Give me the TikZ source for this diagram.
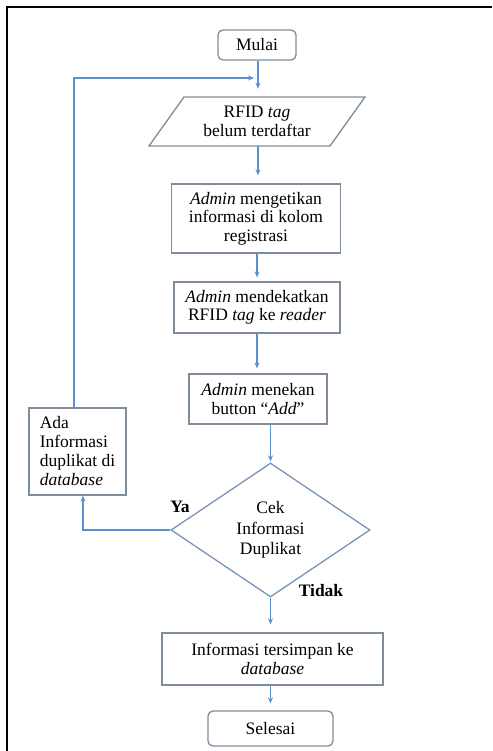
\documentclass[tikz,border=0pt]{standalone}
\usepackage{fontspec}
\setmainfont{Liberation Serif}
\usetikzlibrary{shapes.geometric,arrows.meta,calc}
\definecolor{cblue}{HTML}{5B8FD0}
\definecolor{bord}{HTML}{7F8C99}
\definecolor{dbord}{HTML}{7896B4}
\begin{document}
\begin{tikzpicture}[x=1pt,y=-1pt,
  every node/.style={font=\fontsize{17.5}{18.5}\selectfont, inner sep=0pt, align=center},
  proc/.style={draw=bord, line width=1.3pt, rectangle},
  term/.style={draw=bord, line width=1.3pt, rounded corners=5pt},
  dec/.style={draw=dbord, line width=1.3pt, diamond},
  arr/.style={draw=cblue, line width=1.2pt, -{Stealth[length=6pt,width=5pt]}, shorten >=6pt},
  lbl/.style={font=\fontsize{17.5}{18.5}\selectfont\bfseries}
]
\useasboundingbox (0,0) rectangle (492,751);
\draw[line width=2pt] (7,751) -- (7,7) -- (492,7);

\node[term, minimum width=78, minimum height=30] (start) at (257,45) {Mulai};
\node[minimum width=215, minimum height=49] (para) at (257,121.5) {RFID \textit{tag}\\belum terdaftar};
\draw[draw=bord, line width=1.3pt]
  ($(para.center)+(-73,-24.5)$) -- ($(para.center)+(108,-24.5)$) --
  ($(para.center)+(73,24.5)$) -- ($(para.center)+(-108,24.5)$) -- cycle;
\node[proc, minimum width=169, minimum height=69] (b3) at (256,218.5) {\textit{Admin} mengetikan\\informasi di kolom\\registrasi};
\node[proc, minimum width=166, minimum height=51] (b4) at (257,307.5) {\textit{Admin} mendekatkan\\RFID \textit{tag} ke \textit{reader}};
\node[proc, minimum width=138, minimum height=50] (b5) at (258,399) {\textit{Admin} menekan\\button “\textit{Add}”};
\node[dec, minimum width=199, minimum height=134] (dec) at (270.5,530) {Cek\\[2pt]Informasi\\[2pt]Duplikat};
\node[proc, minimum width=97, minimum height=87, align=left] (ada) at (77.5,451.5) {Ada\\[0.5pt]Informasi\\[0.5pt]duplikat di\\[0.5pt]\textit{database}};
\node[proc, minimum width=221, minimum height=52] (b7) at (272.5,659) {Informasi tersimpan ke\\\textit{database}};
\node[term, minimum width=125, minimum height=35] (end) at (270.5,728.5) {Selesai};

\node[lbl] (ya) at (180,507) {Ya};
\node[lbl] (tidak) at (321,591) {Tidak};

\coordinate (join) at (258,78);
\draw[arr, shorten >=8pt] (start.south -| join) -- (para.north -| join);
\draw[arr, shorten >=8pt] (para.south -| join) -- (b3.north -| join);
\draw[arr, shorten >=4pt] (b3.south -| b4.north) -- (b4.north);
\draw[arr, shorten >=5pt] (b4.south) -- (b4.south |- b5.north);
\draw[arr, shorten >=1pt] (b5.south -| dec.north) -- (dec.north);
\draw[arr, shorten >=8pt] (dec.south) -- (dec.south |- b7.north);
\draw[arr, shorten >=7pt] (b7.south -| end.north) -- (end.north);
\draw[arr, shorten >=0pt] (dec.west) -| ($(ada.south)+(5.5,0)$);
\draw[arr, shorten >=4pt] ($(ada.north)+(-3.5,0)$) |- (join);
\end{tikzpicture}
\end{document}
